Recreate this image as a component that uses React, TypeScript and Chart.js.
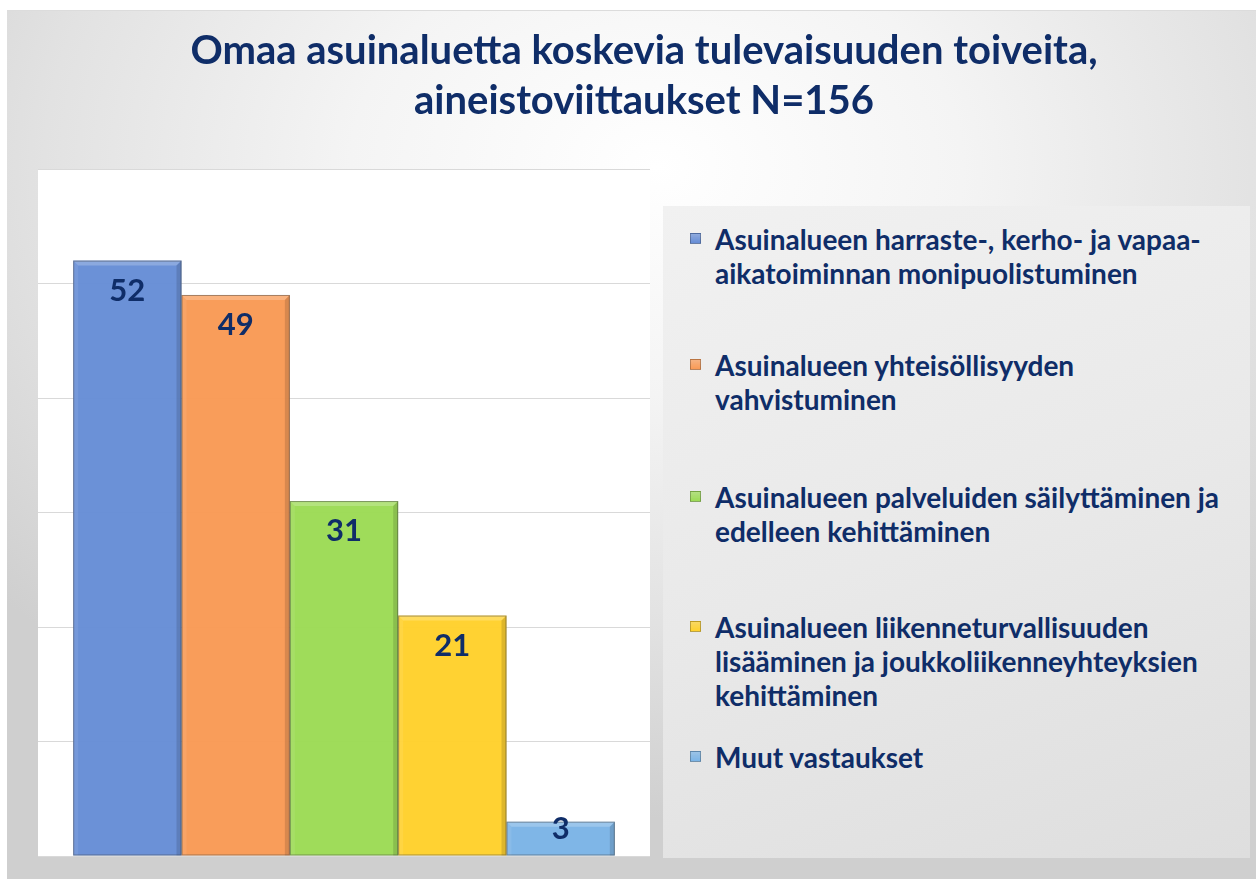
import React, { useEffect, useRef } from "react";
import { Chart, registerables } from "chart.js";

Chart.register(...registerables);

const titleLines = [
  "Omaa asuinaluetta koskevia tulevaisuuden toiveita,",
  "aineistoviittaukset N=156",
];

const seriesNames: string[][] = [
  ["Asuinalueen harraste-, kerho- ja vapaa-", "aikatoiminnan monipuolistuminen"],
  ["Asuinalueen yhteisöllisyyden", "vahvistuminen"],
  ["Asuinalueen palveluiden säilyttäminen ja", "edelleen kehittäminen"],
  ["Asuinalueen liikenneturvallisuuden", "lisääminen ja joukkoliikenneyhteyksien", "kehittäminen"],
  ["Muut vastaukset"],
];

const seriesValues = [52, 49, 31, 21, 3];

const seriesColors = ["#668DD6", "#F99A55", "#9CDB55", "#FFD12B", "#7BB4E6"];

const yMin = 0;
const yMax = 60;
const yStep = 10;

const legendTops = [221, 347, 479, 609, 739];

const NAVY = "#0F2D68";
const FONT = "Lato, 'Open Sans', sans-serif";

function withAlpha(hex: string, a: number) {
  const n = parseInt(hex.slice(1), 16);
  return `rgba(${(n >> 16) & 255},${(n >> 8) & 255},${n & 255},${a})`;
}

const plotBg = {
  id: "plotBg",
  beforeDraw(chart: any) {
    const { ctx, chartArea } = chart;
    ctx.save();
    ctx.fillStyle = "#ffffff";
    ctx.fillRect(chartArea.left, chartArea.top, chartArea.right - chartArea.left, chartArea.bottom - chartArea.top);
    ctx.restore();
  },
};

const bevel = {
  id: "bevel",
  afterDatasetsDraw(chart: any) {
    const { ctx } = chart;
    ctx.save();
    chart.data.datasets.forEach((ds: any, i: number) => {
      const meta = chart.getDatasetMeta(i);
      meta.data.forEach((bar: any) => {
        const { x, y, base, width } = bar.getProps(["x", "y", "base", "width"], true);
        const l = x - width / 2;
        const r = x + width / 2;
        const b = 5;
        ctx.fillStyle = "rgba(255,255,255,0.22)";
        ctx.beginPath();
        ctx.moveTo(l, y);
        ctx.lineTo(r, y);
        ctx.lineTo(r - b, y + b);
        ctx.lineTo(l + b, y + b);
        ctx.closePath();
        ctx.fill();
        ctx.fillStyle = "rgba(255,255,255,0.08)";
        ctx.beginPath();
        ctx.moveTo(l, y);
        ctx.lineTo(l + b, y + b);
        ctx.lineTo(l + b, base);
        ctx.lineTo(l, base);
        ctx.closePath();
        ctx.fill();
        ctx.fillStyle = "rgba(0,0,0,0.13)";
        ctx.beginPath();
        ctx.moveTo(r, y);
        ctx.lineTo(r - b, y + b);
        ctx.lineTo(r - b, base);
        ctx.lineTo(r, base);
        ctx.closePath();
        ctx.fill();
        ctx.strokeStyle = "rgba(60,60,60,0.45)";
        ctx.lineWidth = 1;
        ctx.strokeRect(l + 0.5, y + 0.5, width - 1, base - y - 1);
      });
    });
    ctx.restore();
  },
};

const dataLabels = {
  id: "dataLabels",
  afterDatasetsDraw(chart: any) {
    const { ctx } = chart;
    ctx.save();
    ctx.font = `bold 31px ${FONT}`;
    ctx.fillStyle = NAVY;
    ctx.textAlign = "center";
    ctx.textBaseline = "middle";
    chart.data.datasets.forEach((ds: any, i: number) => {
      const meta = chart.getDatasetMeta(i);
      meta.data.forEach((bar: any, j: number) => {
        const { x, y, base } = bar.getProps(["x", "y", "base"], true);
        const h = base - y;
        const off = h >= 60 ? 30 : 7;
        ctx.fillText(String(ds.data[j]), x, y + off);
      });
    });
    ctx.restore();
  },
};

export default function App() {
  const canvasRef = useRef<HTMLCanvasElement | null>(null);

  useEffect(() => {
    if (!canvasRef.current) return;
    const chart = new Chart(canvasRef.current, {
      type: "bar",
      data: {
        labels: [""],
        datasets: seriesValues.map((v, i) => ({
          label: seriesNames[i].join(" "),
          data: [v],
          backgroundColor: withAlpha(seriesColors[i], 0.97),
          borderWidth: 0,
          barPercentage: 1,
          categoryPercentage: 0.885,
        })),
      },
      options: {
        animation: false,
        responsive: false,
        devicePixelRatio: 1,
        layout: { padding: { left: 31, right: 6, top: 0, bottom: 24 } },
        plugins: {
          legend: { display: false },
          tooltip: { enabled: false },
          title: {
            display: true,
            text: titleLines,
            color: NAVY,
            font: { family: FONT, size: 40, weight: "bold", lineHeight: 1.25 },
            padding: { top: 15, bottom: 43 },
          },
        },
        scales: {
          x: { display: false },
          y: {
            position: "right",
            min: yMin,
            max: yMax,
            ticks: { display: false, stepSize: yStep },
            grid: { color: "#d9d9d9", lineWidth: 1, drawTicks: false },
            border: { display: false },
            afterFit: (scale: any) => {
              scale.width = 600;
            },
          },
        },
      },
      plugins: [plotBg, bevel, dataLabels],
    });
    return () => chart.destroy();
  }, []);

  return (
    <div
      style={{
        position: "absolute",
        left: 0,
        top: 0,
        width: 1256,
        height: 879,
        background: "#ffffff",
        overflow: "hidden",
      }}
    >
      <div
        style={{
          position: "absolute",
          left: 7,
          top: 10,
          width: 1249,
          height: 869,
          background:
            "radial-gradient(ellipse 70% 75% at 52% 18%, #ffffff 0%, #f4f4f4 35%, #e2e2e2 70%, #cfcfcf 100%)",
          borderTop: "1px solid #dcdcdc",
          boxSizing: "border-box",
        }}
      >
        <canvas
          ref={canvasRef}
          width={1249}
          height={869}
          style={{ position: "absolute", left: 0, top: 0, width: 1249, height: 869 }}
        />
        <div
          style={{
            position: "absolute",
            left: 656,
            top: 195,
            width: 587,
            height: 652,
            background: "linear-gradient(160deg, #f1f1f1 0%, #e9e9e9 50%, #dedede 100%)",
          }}
        />
        {seriesNames.map((lines, i) => (
          <div
            key={i}
            style={{
              position: "absolute",
              left: 683,
              top: legendTops[i] - 10,
              fontFamily: FONT,
              fontWeight: 700,
              fontSize: 28,
              lineHeight: "34px",
              color: NAVY,
              whiteSpace: "nowrap",
            }}
          >
            <span
              style={{
                position: "absolute",
                left: 0,
                top: 11,
                width: 11,
                height: 11,
                background: `linear-gradient(180deg, ${withAlpha(seriesColors[i], 0.7)}, ${seriesColors[i]})`,
                border: "1px solid rgba(0,0,0,0.25)",
                boxSizing: "border-box",
              }}
            />
            <div style={{ marginLeft: 25 }}>
              {lines.map((t, k) => (
                <div key={k}>{t}</div>
              ))}
            </div>
          </div>
        ))}
      </div>
    </div>
  );
}
